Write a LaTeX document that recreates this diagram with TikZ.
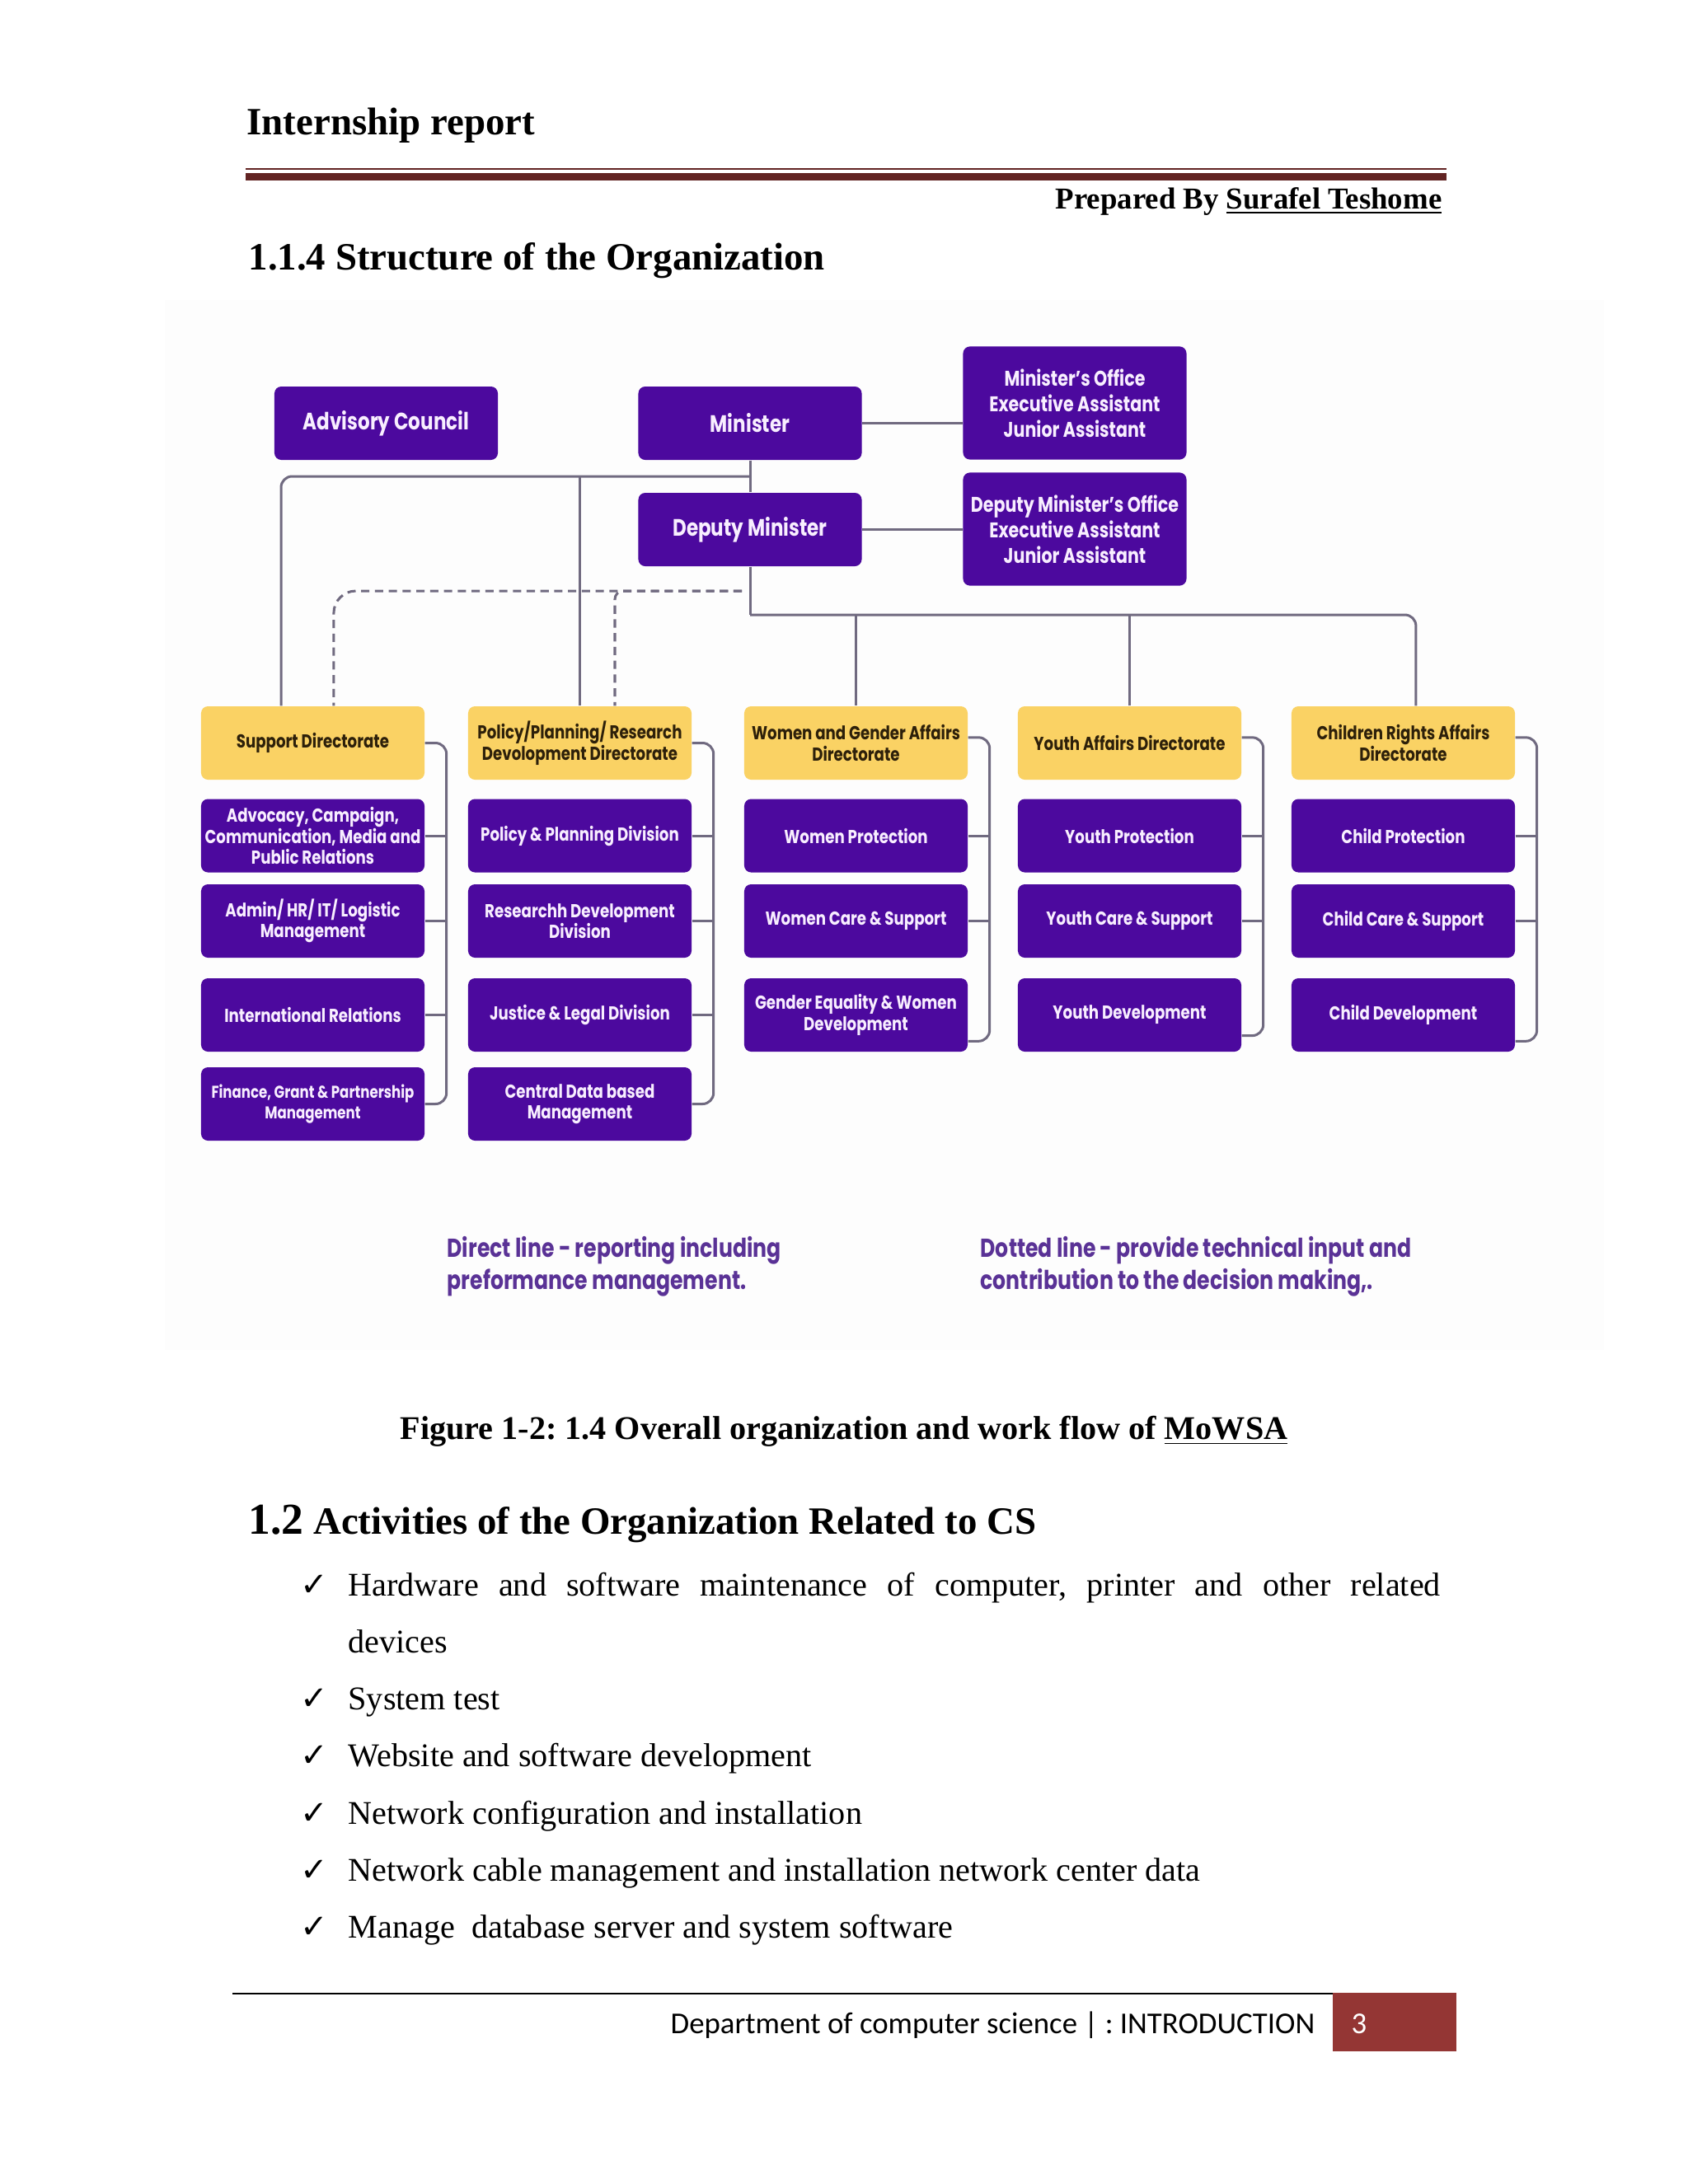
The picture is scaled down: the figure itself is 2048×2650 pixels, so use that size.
\documentclass[tikz,border=0pt]{standalone}
\usepackage{fontspec}
\setmainfont{Liberation Serif}
\newfontfamily\chartfont[FakeStretch=0.8]{Poppins}
\newfontfamily\calibfont{Carlito}
\newfontfamily\symbfont{DejaVu Sans}
\definecolor{mpurple}{RGB}{76,9,158}
\definecolor{myellow}{RGB}{250,210,100}
\definecolor{ptext}{RGB}{248,238,255}
\definecolor{ytext}{RGB}{45,32,10}
\definecolor{conncol}{RGB}{112,106,128}
\definecolor{legcol}{RGB}{90,50,150}
\definecolor{hdrcol}{RGB}{98,36,35}
\definecolor{footcol}{RGB}{148,54,52}
\frenchspacing
\begin{document}
\begin{tikzpicture}[x=0.29883pt,y=-0.29883pt,
  txt/.style={inner sep=0pt},
  pbox/.style={fill=mpurple, rounded corners=2.5pt, text=ptext, align=center, inner sep=1pt,
    minimum width=81pt, minimum height=26.6pt,
    font=\chartfont\bfseries\fontsize{6.8}{7.6}\selectfont},
  ybox/.style={pbox, fill=myellow, text=ytext},
  topbox/.style={pbox, font=\chartfont\bfseries\fontsize{8.6}{9.3}\selectfont},
  offbox/.style={pbox, minimum height=41pt, font=\chartfont\bfseries\fontsize{7.7}{9.2}\selectfont},
  conn/.style={draw=conncol, line width=0.9pt},
  dconn/.style={conn, dash pattern=on 3pt off 2pt},
  rc/.style={rounded corners=4pt}]
\useasboundingbox (0,0) rectangle (2048,2650);
\fill[white] (0,0) rectangle (2048,2650);
\fill[black!0.8] (200,364) rectangle (1946,1638);

% ---------- header ----------
\node[txt, anchor=base west, font=\bfseries\fontsize{14}{16}\selectfont] (title) at (299,163) {Internship report};
\draw[hdrcol, line width=0.6pt] (298,205) -- (1755,205);
\fill[hdrcol] (298,210) rectangle (1755,219);
\node[txt, anchor=base east, font=\bfseries\fontsize{11}{13}\selectfont] (prep) at (1750,253) {Prepared By \underline{Surafel Teshome}};
\node[txt, anchor=base west, font=\bfseries\fontsize{14}{16}\selectfont] (sec) at (301,327) {1.1.4 Structure of the Organization};

% ---------- chart: top ----------
\node[topbox] (adv) at (468.5,513.5) {Advisory Council};
\node[topbox] (min) at (910,513.5) {Minister};
\node[offbox] (minoff) at (1304,489) {Minister’s Office\\Executive Assistant\\Junior Assistant};
\node[topbox] (dep) at (910,642.5) {Deputy Minister};
\node[offbox] (depoff) at (1304,642) {Deputy Minister’s Office\\Executive Assistant\\Junior Assistant};

% ---------- directorates ----------
\node[ybox] (d1) at (379.5,901.5) {Support Directorate};
\node[ybox] (d2) at (703.5,901.5) {Policy/Planning/ Research\\Devolopment Directorate};
\node[ybox] (d3) at (1038.5,901.5) {Women and Gender Affairs\\Directorate};
\node[ybox] (d4) at (1370.5,901.5) {Youth Affairs Directorate};
\node[ybox] (d5) at (1702.5,901.5) {Children Rights Affairs\\Directorate};

% ---------- divisions ----------
\node[pbox] (p11) at (379.5,1014) {Advocacy, Campaign,\\Communication, Media and\\Public Relations};
\node[pbox] (p12) at (379.5,1117.5) {Admin/ HR/ IT/ Logistic\\Management};
\node[pbox] (p13) at (379.5,1231.5) {International Relations};
\node[pbox, font=\chartfont\bfseries\fontsize{6.2}{7.4}\selectfont] (p14) at (379.5,1339.5) {Finance, Grant \& Partnership\\Management};

\node[pbox] (p21) at (703.5,1014) {Policy \& Planning Division};
\node[pbox] (p22) at (703.5,1117.5) {Researchh Development\\Division};
\node[pbox] (p23) at (703.5,1231.5) {Justice \& Legal Division};
\node[pbox] (p24) at (703.5,1339.5) {Central Data based\\Management};

\node[pbox] (p31) at (1038.5,1014) {Women Protection};
\node[pbox] (p32) at (1038.5,1117.5) {Women Care \& Support};
\node[pbox] (p33) at (1038.5,1231.5) {Gender Equality \& Women\\Development};

\node[pbox] (p41) at (1370.5,1014) {Youth Protection};
\node[pbox] (p42) at (1370.5,1117.5) {Youth Care \& Support};
\node[pbox] (p43) at (1370.5,1231.5) {Youth Development};

\node[pbox] (p51) at (1702.5,1014) {Child Protection};
\node[pbox] (p52) at (1702.5,1117.5) {Child Care \& Support};
\node[pbox] (p53) at (1702.5,1231.5) {Child Development};

% ---------- connectors: top ----------
\coordinate (j1) at (910,578);
\coordinate (j2) at (910,746);
\coordinate (k) at (900,717);
\draw[conn] (min.east) -- (min.east -| minoff.west);
\draw[conn] (dep.east) -- (dep.east -| depoff.west);
\draw[conn] (min.south) -- (dep.north);
\draw[conn, rc] (j1) -| ([xshift=-11.5pt]d1.north);
\draw[conn] (d2.north) -- (d2.north |- j1);
\draw[conn] (dep.south) -- (j2);
\draw[conn, rc] (j2) -| ([xshift=4.6pt]d5.north);
\draw[conn] (d3.north) -- (d3.north |- j2);
\draw[conn] (d4.north) -- (d4.north |- j2);
\draw[dconn, rounded corners=8pt] (k) -| ([xshift=7.6pt]d1.north);
\draw[dconn, rounded corners=3pt] (k) -| ([xshift=12.7pt]d2.north);

% ---------- connectors: brackets ----------
\draw[conn, rc] (d1.east) -- ++(26,0) |- (p14.east);
\draw[conn] (p11.east) -- ++(26,0);
\draw[conn] (p12.east) -- ++(26,0);
\draw[conn] (p13.east) -- ++(26,0);
\draw[conn, rc] (d2.east) -- ++(26,0) |- (p24.east);
\draw[conn] (p21.east) -- ++(26,0);
\draw[conn] (p22.east) -- ++(26,0);
\draw[conn] (p23.east) -- ++(26,0);
\draw[conn, rc] ([yshift=2pt]d3.east) -- ++(26,0) |- ([yshift=-9.5pt]p33.east);
\draw[conn] (p31.east) -- ++(26,0);
\draw[conn] (p32.east) -- ++(26,0);
\draw[conn, rc] ([yshift=2pt]d4.east) -- ++(26,0) |- ([yshift=-7.5pt]p43.east);
\draw[conn] (p41.east) -- ++(26,0);
\draw[conn] (p42.east) -- ++(26,0);
\draw[conn, rc] ([yshift=2pt]d5.east) -- ++(26,0) |- ([yshift=-9.5pt]p53.east);
\draw[conn] (p51.east) -- ++(26,0);
\draw[conn] (p52.east) -- ++(26,0);

% ---------- legend ----------
\node[txt, anchor=north west, align=left, text=legcol, font=\chartfont\bfseries\fontsize{9.4}{11.6}\selectfont] (leg1) at (542,1500) {Direct line - reporting including\\preformance management.};
\node[txt, anchor=north west, align=left, text=legcol, font=\chartfont\bfseries\fontsize{9.4}{11.6}\selectfont] (leg2) at (1189,1500) {Dotted line - provide technical input and\\contribution to the decision making,.};

% ---------- caption & section ----------
\node[txt, anchor=base, font=\bfseries\fontsize{12}{14}\selectfont] (cap) at (1024,1746) {Figure 1-2: 1.4 Overall organization and work flow of \underline{MoWSA}};
\node[txt, anchor=base west, font=\bfseries\fontsize{14}{16}\selectfont] (sec2) at (301,1861) {{\fontsize{16}{18}\selectfont 1.2} Activities of the Organization Related to CS};

% ---------- bullets ----------
\foreach \yy/\tx [count=\i] in {1936/{\makebox[396pt][s]{Hardware and software maintenance of computer, printer and other related}},
  2074/{System test}, 2143/{Website and software development}, 2213/{Network configuration and installation},
  2282/{Network cable management and installation network center data}, 2351/{Manage\ \ database server and system software}}{
  \node[txt, anchor=base west, font=\symbfont\fontsize{12}{14}\selectfont] (ck\i) at (364,\yy) {✓};
  \node[txt, anchor=base west, font=\fontsize{12}{14}\selectfont] (bt\i) at (422,\yy) {\tx};
}
\node[txt, anchor=base west, font=\fontsize{12}{14}\selectfont] (bt1b) at (422,2005) {devices};

% ---------- footer ----------
\draw[line width=0.6pt] (282,2419) -- (1617,2419);
\fill[footcol] (1617,2418) rectangle (1767,2489);
\node[txt, anchor=base east, font=\calibfont\fontsize{11}{13}\selectfont] (foot) at (1596,2467) {Department of computer science | : INTRODUCTION};
\node[txt, anchor=base west, text=white, font=\calibfont\fontsize{11}{13}\selectfont] (pg) at (1639,2467) {3};
\end{tikzpicture}
\end{document}
